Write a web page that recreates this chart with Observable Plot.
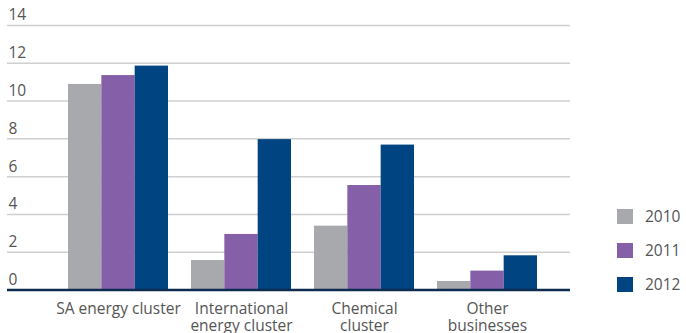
<!DOCTYPE html>
<html>
<head>
<meta charset="utf-8">
<script src="https://cdn.jsdelivr.net/npm/d3@7"></script>
<script src="https://cdn.jsdelivr.net/npm/@observablehq/plot@0.6"></script>
<style>
  html, body { margin: 0; padding: 0; background: #fff; }
  #wrap { position: relative; width: 686px; height: 333px; overflow: hidden; font-family: "Open Sans", sans-serif; }
  .item { position: absolute; left: 617px; display: flex; align-items: center; height: 15px; }
  .sw { width: 16px; height: 15px; margin-right: 12px; flex: none; }
  .lab { font-size: 15.5px; color: #555; line-height: 15px; white-space: nowrap; }
</style>
</head>
<body>
<div id="wrap"></div>
<script>
const categories = ["SA energy cluster", "International\nenergy cluster", "Chemical\ncluster", "Other\nbusinesses"];
const years = ["2010", "2011", "2012"];
const values2010 = [10.88, 1.56, 3.38, 0.45];
const values2011 = [11.35, 2.94, 5.53, 1.0];
const values2012 = [11.85, 7.96, 7.67, 1.81];
const yTicks = [0, 2, 4, 6, 8, 10, 12, 14];
const colors = ["#a7a9ac", "#8560a8", "#004481"];

const series = [values2010, values2011, values2012];
const rows = series.map((vals, i) => categories.map((c, j) => ({category: c, year: years[i], value: vals[j]})));

const bw = 100 / 3;
const barMarks = rows.map((data, i) =>
  Plot.barY(data, {
    x: "category", y: "value", fill: colors[i],
    insetLeft: i * bw, insetRight: (2 - i) * bw
  })
);

const chart = Plot.plot({
  width: 686,
  height: 333,
  marginLeft: 7,
  marginRight: 116,
  marginTop: 25,
  marginBottom: 43.5,
  x: {domain: categories, range: [67, 538], paddingInner: 0.191, paddingOuter: 0, axis: null},
  y: {domain: [0, 14], range: [289.5, 25], axis: null},
  style: {fontFamily: "Open Sans, sans-serif", background: "#fff"},
  marks: [
    Plot.ruleY(yTicks.filter(d => d > 0), {stroke: "#cfcfcf", strokeWidth: 1.5}),
    ...barMarks,
    Plot.ruleY([0], {stroke: "#0d2c4f", strokeWidth: 2.5}),
    Plot.text(yTicks, {y: d => d, text: d => String(d), frameAnchor: "left", textAnchor: "start", dx: 1, dy: -10, fontSize: 15.5, fill: "#555"}),
    Plot.text(categories, {x: d => d, y: () => 0, text: d => d, lineAnchor: "top", dy: 11, fontSize: 15.5, lineHeight: 1.14, fill: "#555"})
  ]
});

const wrap = document.getElementById("wrap");
wrap.appendChild(chart);

years.forEach((y, i) => {
  const item = document.createElement("div");
  item.className = "item";
  item.style.top = (209 + i * 34) + "px";
  const sw = document.createElement("div");
  sw.className = "sw";
  sw.style.background = colors[i];
  const lab = document.createElement("span");
  lab.className = "lab";
  lab.textContent = y;
  item.appendChild(sw);
  item.appendChild(lab);
  wrap.appendChild(item);
});
</script>
</body>
</html>
